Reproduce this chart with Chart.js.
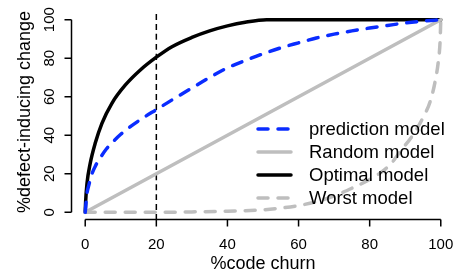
<!DOCTYPE html>
<html lang="en">
<head>
  <meta charset="UTF-8">
  <title>Effort-aware cumulative lift chart</title>
  <script src="https://cdn.jsdelivr.net/npm/chart.js"></script>
  <style>
    body { margin: 0; background: #fff; }
    .chart-box { width: 456px; height: 276px; position: relative; }
  </style>
</head>
<body>
  <div class="chart-box">
    <canvas id="liftChart"></canvas>
  </div>

  <script>
    // values
    const predictionX = [0, 0.5, 1, 1.9, 3, 4.3, 6, 8, 10, 12.2, 16, 20, 25, 30, 35, 40, 45, 50, 55, 60, 65, 70, 75, 80, 85, 90, 95, 100];
    const predictionY = [0, 9.9, 14, 20, 24.5, 28.5, 33, 37, 40.5, 43.8, 48.7, 53.3, 59, 64.5, 70, 75, 78.8, 82.3, 85.4, 88, 90.5, 92.5, 94.2, 95.7, 97, 98.3, 99.3, 100];

    const randomX = [0, 100];
    const randomY = [0, 100];

    const optimalX = [0, 0.1, 0.5, 1.4, 2.8, 4.7, 7.5, 11.3, 15.5, 20.2, 24.4, 30, 35, 40, 45, 51, 100];
    const optimalY = [0, 5, 15, 25.4, 35.8, 46.2, 56.6, 66.1, 73.9, 80.8, 86, 90.8, 94.2, 96.8, 98.7, 100, 100];

    const worstX = [0, 20, 30, 40, 50, 55, 60, 65, 70, 75, 80, 83, 85.7, 89, 92.3, 95.1, 97, 98.4, 99.3, 99.8, 100];
    const worstY = [0, 0, 0.2, 0.6, 1.3, 2.2, 3.5, 5.5, 8.5, 12.5, 17, 20.5, 24.6, 32.5, 40.5, 49.5, 57.4, 67.8, 78.2, 88.6, 100];

    const cutoffX = [20, 20];
    const cutoffY = [-4, 104];

    const xTicks = [0, 20, 40, 60, 80, 100];
    const yTicks = [0, 20, 40, 60, 80, 100];

    const xTitle = '%code churn';
    const yTitle = '%defect-inducing change';

    const FONT = '"Liberation Sans", Arial, sans-serif';
    const BLUE = '#0a2cff';
    const GRAY = '#bebebe';

    const pts = (xs, ys) => xs.map((x, i) => ({ x: x, y: ys[i] }));

    // R style axes, titles and legend
    const rAxes = {
      id: 'rAxes',
      afterDraw(chart) {
        const ctx = chart.ctx;
        const xs = chart.scales.x, ys = chart.scales.y;
        const area = chart.chartArea;
        ctx.save();
        ctx.strokeStyle = '#000';
        ctx.fillStyle = '#000';
        ctx.lineWidth = 1.5;

        // x axis
        const yb = area.bottom - 0.5;
        ctx.beginPath();
        ctx.moveTo(xs.getPixelForValue(xTicks[0]), yb);
        ctx.lineTo(xs.getPixelForValue(xTicks[xTicks.length - 1]), yb);
        xTicks.forEach(v => {
          const px = xs.getPixelForValue(v);
          ctx.moveTo(px, yb);
          ctx.lineTo(px, yb + 7);
        });
        ctx.stroke();
        ctx.font = '15px ' + FONT;
        ctx.textAlign = 'center';
        ctx.textBaseline = 'middle';
        xTicks.forEach(v => ctx.fillText(String(v), xs.getPixelForValue(v), 245));

        // y axis
        const xl = area.left + 0.5;
        ctx.beginPath();
        ctx.moveTo(xl, ys.getPixelForValue(yTicks[0]));
        ctx.lineTo(xl, ys.getPixelForValue(yTicks[yTicks.length - 1]));
        yTicks.forEach(v => {
          const py = ys.getPixelForValue(v);
          ctx.moveTo(xl, py);
          ctx.lineTo(xl - 7, py);
        });
        ctx.stroke();
        yTicks.forEach(v => {
          ctx.save();
          ctx.translate(50, ys.getPixelForValue(v));
          ctx.rotate(-Math.PI / 2);
          ctx.fillText(String(v), 0, 0);
          ctx.restore();
        });

        // titles
        ctx.font = '18px ' + FONT;
        ctx.fillText(xTitle, (area.left + area.right) / 2, 264);
        ctx.save();
        ctx.translate(25, (area.top + area.bottom) / 2 - 4);
        ctx.rotate(-Math.PI / 2);
        ctx.fillText(yTitle, 0, 0);
        ctx.restore();

        // legend, no box
        ctx.font = '18.5px ' + FONT;
        ctx.textAlign = 'left';
        let ly = 129;
        chart.data.datasets.filter(d => d.label).forEach(d => {
          ctx.beginPath();
          ctx.strokeStyle = d.borderColor;
          ctx.lineWidth = d.borderWidth;
          ctx.lineCap = 'round';
          ctx.setLineDash(d.borderDash || []);
          ctx.moveTo(258, ly);
          ctx.lineTo(291, ly);
          ctx.stroke();
          ctx.setLineDash([]);
          ctx.fillText(d.label, 309, ly + 1);
          ly += 23;
        });
        ctx.restore();
      }
    };

    const lineStyle = { pointRadius: 0, fill: false, borderCapStyle: 'round', cubicInterpolationMode: 'monotone' };

    new Chart(document.getElementById('liftChart'), {
      type: 'scatter',
      data: {
        datasets: [
          Object.assign({ label: 'prediction model', data: pts(predictionX, predictionY), showLine: true,
            borderColor: BLUE, borderWidth: 3.5, borderDash: [10, 10] }, lineStyle),
          Object.assign({ label: 'Random model', data: pts(randomX, randomY), showLine: true,
            borderColor: GRAY, borderWidth: 3.5 }, lineStyle),
          Object.assign({ label: 'Optimal model', data: pts(optimalX, optimalY), showLine: true,
            borderColor: '#000', borderWidth: 3.5 }, lineStyle),
          Object.assign({ label: 'Worst model', data: pts(worstX, worstY), showLine: true,
            borderColor: GRAY, borderWidth: 3.5, borderDash: [10, 10] }, lineStyle),
          Object.assign({ label: '', data: pts(cutoffX, cutoffY), showLine: true,
            borderColor: '#000', borderWidth: 1.5, borderDash: [6, 4] }, lineStyle, { borderCapStyle: 'butt' })
        ]
      },
      options: {
        responsive: true,
        maintainAspectRatio: false,
        animation: false,
        layout: { padding: { left: 71, right: 1, top: 12, bottom: 56 } },
        scales: {
          x: { type: 'linear', min: -4, max: 104, display: false },
          y: { type: 'linear', min: -4, max: 104, display: false }
        },
        plugins: {
          legend: { display: false },
          tooltip: { enabled: false }
        }
      },
      plugins: [rAxes]
    });
  </script>
</body>
</html>
